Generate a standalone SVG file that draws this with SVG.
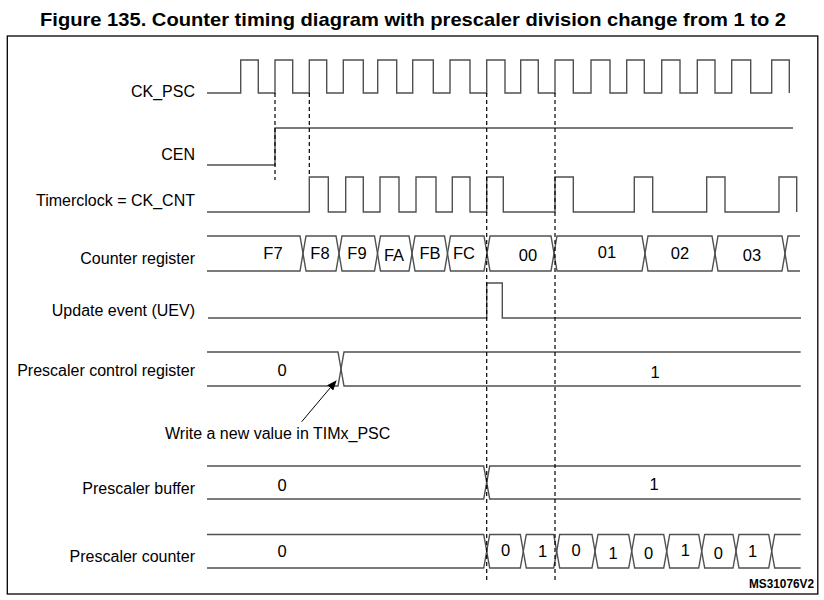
<svg xmlns="http://www.w3.org/2000/svg" width="824" height="600" viewBox="0 0 824 600">
<defs>
<style>
.lbl{font-family:"Liberation Sans",Arial,sans-serif;font-size:16px;fill:#000;text-anchor:end}
.val{font-family:"Liberation Sans",Arial,sans-serif;font-size:16.5px;fill:#000;text-anchor:middle}
.wave{fill:none;stroke:#505050;stroke-width:1.4}
.dash{fill:none;stroke:#000;stroke-width:1.2;stroke-dasharray:4 3}
</style>
<marker id="ah" markerWidth="10" markerHeight="8" refX="9" refY="4" orient="auto" markerUnits="userSpaceOnUse">
<path d="M0,0 L10,4 L0,8 Z" fill="#000"/>
</marker>
</defs>
<rect x="0" y="0" width="824" height="600" fill="#fff"/>
<text x="40" y="25.5" font-family="'Liberation Sans',Arial,sans-serif" font-weight="bold" font-size="19" textLength="746" lengthAdjust="spacingAndGlyphs" fill="#000">Figure 135. Counter timing diagram with prescaler division change from 1 to 2</text>
<rect x="7.3" y="36" width="810.5" height="558" fill="none" stroke="#000" stroke-width="1.3"/>

<g id="ck_psc">
<text class="lbl" x="195" y="97">CK_PSC</text>
<path class="wave" d="M207,93 H240.7 V60 H258.3 V93 H275 V60 H292.7 V93 H309.3 V60 H326.7 V93 H343.3 V60 H363.3 V93 H377.7 V60 H396.7 V93 H412.7 V60 H433.3 V93 H450 V60 H470 V93 H486.7 V60 H505 V93 H520.7 V60 H538.3 V93 H555 V60 H573.3 V93 H591 V60 H610 V93 H626.7 V60 H644.3 V93 H661.7 V60 H680 V93 H697.3 V60 H715 V93 H731.7 V60 H750.7 V93 H771.7 V60 H789.3 V93"/>
</g>

<g id="cen">
<text class="lbl" x="195" y="160">CEN</text>
<path class="wave" d="M207,165 H275 V128 H793"/>
</g>

<g id="timerclock">
<text class="lbl" x="195" y="206">Timerclock = CK_CNT</text>
<path class="wave" d="M207,212 H309.3 V177 H328.3 V212 H345.7 V177 H363.3 V212 H380 V177 H399 V212 H416 V177 H436 V212 H452.3 V177 H470 V212 H486.7 V177 H503.3 V212 H555 V177 H573.3 V212 H634.3 V177 H652.7 V212 H706.7 V177 H725 V212 H779 V177 H796.7 V212"/>
</g>

<g id="counter_register">
<text class="lbl" x="195" y="264">Counter register</text>
<polyline class="wave" points="207,236 300,236 303,253.5 300,271 207,271"/>
<polygon class="wave" points="306,236 336,236 339,253.5 336,271 306,271 303,253.5"/>
<polygon class="wave" points="342,236 374.5,236 377.5,253.5 374.5,271 342,271 339,253.5"/>
<polygon class="wave" points="380.5,236 409,236 412,253.5 409,271 380.5,271 377.5,253.5"/>
<polygon class="wave" points="415,236 444.5,236 447.5,253.5 444.5,271 415,271 412,253.5"/>
<polygon class="wave" points="450.5,236 484,236 487,253.5 484,271 450.5,271 447.5,253.5"/>
<polygon class="wave" points="490,236 551,236 554,253.5 551,271 490,271 487,253.5"/>
<polygon class="wave" points="557,236 642,236 645,253.5 642,271 557,271 554,253.5"/>
<polygon class="wave" points="648,236 712,236 715,253.5 712,271 648,271 645,253.5"/>
<polygon class="wave" points="718,236 782,236 785,253.5 782,271 718,271 715,253.5"/>
<polyline class="wave" points="800,236 788,236 785,253.5 788,271 800,271"/>
<text class="val" x="273" y="259">F7</text>
<text class="val" x="320" y="258.5">F8</text>
<text class="val" x="357" y="258.5">F9</text>
<text class="val" x="394" y="260.5">FA</text>
<text class="val" x="430" y="258.5">FB</text>
<text class="val" x="464" y="258.5">FC</text>
<text class="val" x="528" y="260.5">00</text>
<text class="val" x="607" y="257.5">01</text>
<text class="val" x="680" y="258.5">02</text>
<text class="val" x="752" y="260.5">03</text>
</g>

<g id="uev">
<text class="lbl" x="195" y="316">Update event (UEV)</text>
<path class="wave" d="M208,318 H486.7 V283 H502.3 V318 H801"/>
</g>

<g id="prescaler_control">
<text class="lbl" x="195" y="376">Prescaler control register</text>
<polyline class="wave" points="207,352 338,352 341,369 338,386 207,386"/>
<polyline class="wave" points="800.7,352 344,352 341,369 344,386 800.7,386"/>
<text class="val" x="282" y="375.5">0</text>
<text class="val" x="655" y="377.5">1</text>
</g>

<g id="write_note">
<text class="lbl" x="165" y="439" style="text-anchor:start">Write a new value in TIMx_PSC</text>
</g>

<g id="prescaler_buffer">
<text class="lbl" x="195" y="494">Prescaler buffer</text>
<polyline class="wave" points="207,466 483.7,466 486.7,482.5 483.7,499 207,499"/>
<polyline class="wave" points="800.7,466 489.7,466 486.7,482.5 489.7,499 800.7,499"/>
<text class="val" x="282" y="490.5">0</text>
<text class="val" x="654" y="489.5">1</text>
</g>

<g id="prescaler_counter">
<text class="lbl" x="195" y="562">Prescaler counter</text>
<polyline class="wave" points="207,534.5 483.7,534.5 486.7,551.25 483.7,568 207,568"/>
<polygon class="wave" points="489.7,534.5 520.3,534.5 523.3,551.25 520.3,568 489.7,568 486.7,551.25"/>
<polygon class="wave" points="526.3,534.5 553.7,534.5 556.7,551.25 553.7,568 526.3,568 523.3,551.25"/>
<polygon class="wave" points="559.7,534.5 592,534.5 595,551.25 592,568 559.7,568 556.7,551.25"/>
<polygon class="wave" points="598,534.5 628.7,534.5 631.7,551.25 628.7,568 598,568 595,551.25"/>
<polygon class="wave" points="634.7,534.5 663.7,534.5 666.7,551.25 663.7,568 634.7,568 631.7,551.25"/>
<polygon class="wave" points="669.7,534.5 698.7,534.5 701.7,551.25 698.7,568 669.7,568 666.7,551.25"/>
<polygon class="wave" points="704.7,534.5 733,534.5 736,551.25 733,568 704.7,568 701.7,551.25"/>
<polygon class="wave" points="739,534.5 768.7,534.5 771.7,551.25 768.7,568 739,568 736,551.25"/>
<polyline class="wave" points="800.7,534.5 774.7,534.5 771.7,551.25 774.7,568 800.7,568"/>
<text class="val" x="282" y="556.5">0</text>
<text class="val" x="505.7" y="556">0</text>
<text class="val" x="542.7" y="557">1</text>
<text class="val" x="576" y="555.5">0</text>
<text class="val" x="613" y="558.5">1</text>
<text class="val" x="648.7" y="558.5">0</text>
<text class="val" x="685.3" y="555.5">1</text>
<text class="val" x="718.3" y="558.5">0</text>
<text class="val" x="752.7" y="556.5">1</text>
</g>

<g id="connectors">
<line class="dash" x1="275" y1="93" x2="275" y2="180"/>
<line class="dash" x1="309.3" y1="93" x2="309.3" y2="177"/>
<line class="dash" x1="486.7" y1="93" x2="486.7" y2="583"/>
<line class="dash" x1="555" y1="93" x2="555" y2="583"/>
<line x1="301.7" y1="421.7" x2="336" y2="381" stroke="#000" stroke-width="1" marker-end="url(#ah)"/>
</g>

<text x="749" y="588" font-family="'Liberation Sans',Arial,sans-serif" font-weight="bold" font-size="12" textLength="65" lengthAdjust="spacingAndGlyphs" fill="#000">MS31076V2</text>
</svg>
